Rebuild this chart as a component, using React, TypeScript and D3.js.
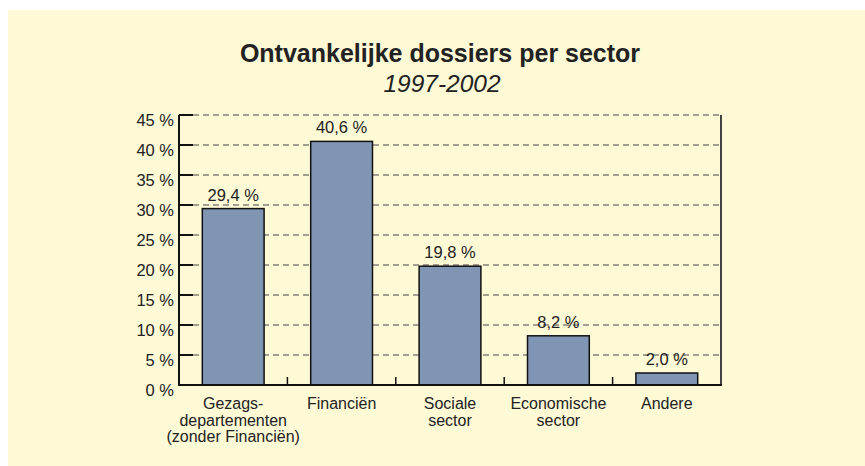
import { useEffect } from "react";
import * as d3 from "d3";

// chart data
const categories = [
  ["Gezags-", "departementen", "(zonder Financiën)"],
  ["Financiën"],
  ["Sociale", "sector"],
  ["Economische", "sector"],
  ["Andere"],
];
const shares = [29.4, 40.6, 19.8, 8.2, 2.0];
const yTicks = [0, 5, 10, 15, 20, 25, 30, 35, 40, 45];

const title = "Ontvankelijke dossiers per sector";
const subtitle = "1997-2002";

const W = 865;
const H = 466;
const margin = { top: 115, right: 144, bottom: 80, left: 179 };
const font = "'Liberation Sans', Arial, Helvetica, sans-serif";

const fmt = (v: number) => v.toFixed(1).replace(".", ",") + " %";

const App = () => {
  useEffect(() => {
    document.body.style.overflow = "hidden";
  }, []);

  const plotBottom = H - margin.bottom - 1;
  const plotRight = W - margin.right;

  const xScale = d3
    .scaleBand<number>()
    .domain(d3.range(categories.length))
    .range([margin.left, plotRight])
    .padding(0);

  const yScale = d3
    .scaleLinear()
    .domain([0, 45])
    .range([plotBottom, margin.top]);

  const barW = xScale.bandwidth() * 0.57;

  return (
    <svg
      width={W}
      height={H}
      style={{ position: "absolute", left: 0, top: 0, display: "block", fontFamily: font }}
    >
      <rect x={8} y={10} width={W - 8} height={H - 10} fill="#fffad6" />

      <text x={440} y={62} textAnchor="middle" fontSize={25} fontWeight="bold" fill="#222">
        {title}
      </text>
      <text x={442} y={92} textAnchor="middle" fontSize={24.5} fontStyle="italic" fill="#222">
        {subtitle}
      </text>

      {/* gridlines */}
      {yTicks.slice(1).map((t) => (
        <line
          key={"g" + t}
          x1={margin.left + 14}
          x2={plotRight}
          y1={yScale(t)}
          y2={yScale(t)}
          stroke="#444"
          strokeWidth={1}
          strokeDasharray="6,4"
        />
      ))}

      {/* right border */}
      <line x1={plotRight} x2={plotRight} y1={margin.top} y2={plotBottom} stroke="#444" strokeWidth={2} />

      {/* bars */}
      {shares.map((v, i) => {
        const cx = (xScale(i) as number) + xScale.bandwidth() / 2;
        return (
          <g key={"b" + i}>
            <rect
              x={cx - barW / 2}
              y={yScale(v)}
              width={barW}
              height={plotBottom - yScale(v)}
              fill="#8094b4"
              stroke="#111"
              strokeWidth={1.5}
            />
            <text x={cx} y={yScale(v) - 8} textAnchor="middle" fontSize={16.5} fill="#222">
              {fmt(v)}
            </text>
          </g>
        );
      })}

      {/* y axis */}
      <line x1={margin.left} x2={margin.left} y1={margin.top} y2={plotBottom + 1} stroke="#111" strokeWidth={2} />
      {yTicks.map((t) => (
        <g key={"y" + t}>
          {t > 0 && (
            <line x1={margin.left} x2={margin.left + 14} y1={yScale(t)} y2={yScale(t)} stroke="#111" strokeWidth={2} />
          )}
          <text x={174} y={yScale(t) + 11} textAnchor="end" fontSize={16.5} fill="#222">
            {t + " %"}
          </text>
        </g>
      ))}

      {/* x axis */}
      <line x1={margin.left - 1} x2={plotRight + 1} y1={plotBottom} y2={plotBottom} stroke="#111" strokeWidth={2} />
      {categories.slice(1).map((_, i) => (
        <line
          key={"t" + i}
          x1={xScale(i + 1)}
          x2={xScale(i + 1)}
          y1={plotBottom}
          y2={plotBottom - 8}
          stroke="#111"
          strokeWidth={1.5}
        />
      ))}
      {categories.map((lines, i) => {
        const cx = (xScale(i) as number) + xScale.bandwidth() / 2;
        return (
          <text key={"x" + i} textAnchor="middle" fontSize={16} fill="#222">
            {lines.map((l, j) => (
              <tspan key={j} x={cx} y={plotBottom + 24 + j * 16.5}>
                {l}
              </tspan>
            ))}
          </text>
        );
      })}
    </svg>
  );
};

export default App;
